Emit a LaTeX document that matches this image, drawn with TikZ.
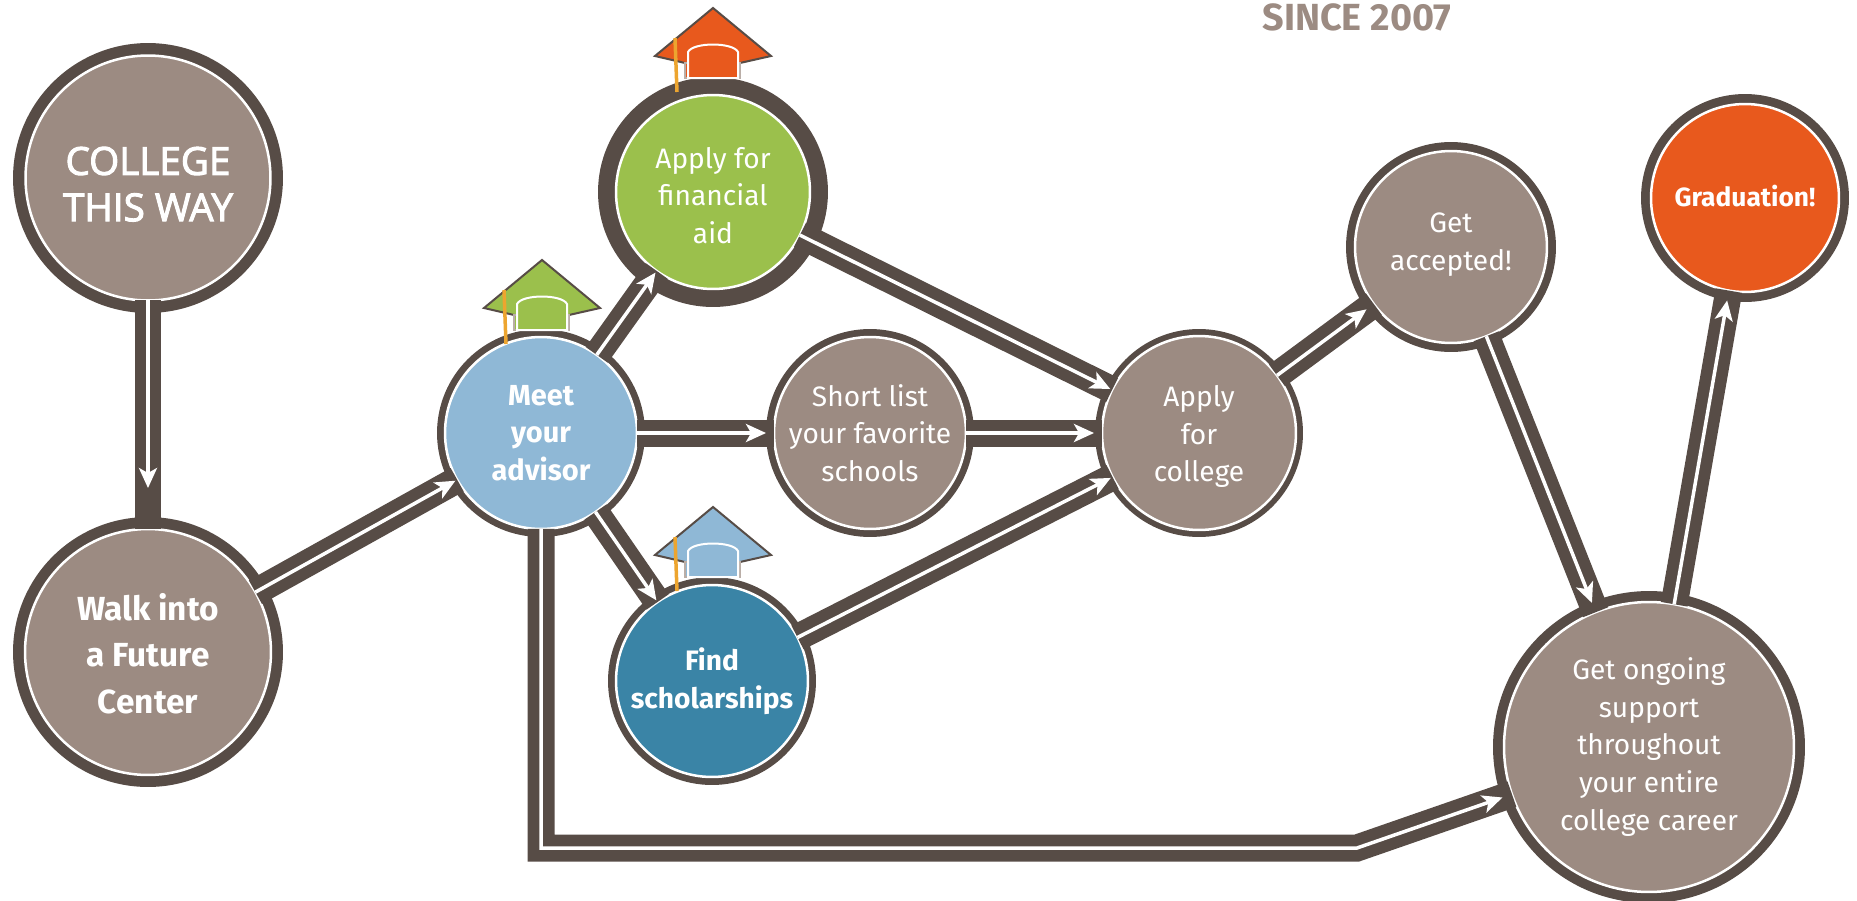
\documentclass[tikz,border=0pt]{standalone}
\usepackage{fontspec}
\setmainfont{Fira Sans}
\newfontfamily\wayfont[FakeBold=2.5]{Open Sans}
\usetikzlibrary{arrows.meta}

\definecolor{ringdark}{HTML}{574C46}
\definecolor{stopbrown}{HTML}{9C8B82}
\definecolor{stopblue}{HTML}{8FB8D6}
\definecolor{stopteal}{HTML}{3A84A6}
\definecolor{stopgreen}{HTML}{9BC04C}
\definecolor{stoporange}{HTML}{E8591D}
\definecolor{tassel}{HTML}{EDA52F}

\newcommand{\topgap}[1]{\rule{0pt}{#1}}

\tikzset{
    stop/.style 2 args={circle, inner sep=0, outer sep=0, minimum size=#1,
        draw=white, line width=0.05cm, fill=stopbrown, text=white, align=center,
        font=\fontsize{16}{21.5}\selectfont,
        preaction={draw=ringdark, line width=#2}},
    textup/.style={execute at end node={\rule[-#1]{0pt}{#1}}},
    link/.style={draw=ringdark, line width=0.54cm,
        postaction={draw=white, line width=0.07cm, shorten >=#1,
            -{Stealth[length=0.4cm, width=0.36cm, inset=0.1cm]}}},
    link/.default=0.18cm,
    hat/.pic={
        \draw[fill=#1, draw=ringdark, line width=0.04cm, line join=miter]
            (0,0) -- (58,48) -- (27,55) -- (-28,55) -- (-58,48) -- cycle;
        \draw[fill=#1, draw=stopbrown!70, line width=0.04cm]
            (-28,70) -- (-28,55) -- (27,55) -- (27,70) -- cycle;
        \draw[fill=#1, draw=white, line width=0.04cm]
            (-25,70) -- (-25,44) .. controls (-20,34) and (20,34) .. (25,44) -- (25,70) -- cycle;
        \draw[tassel, line width=0.07cm] (-38,30) -- (-36,84);
    }
}

\begin{document}
\begin{tikzpicture}[x=0.02cm, y=-0.02cm]
    \useasboundingbox (0,0) rectangle (1857,900);

    \node[font=\fontsize{21.5}{26}\selectfont\bfseries, text=stopbrown] (since) at (1357,17) {SINCE 2007};

    \node[stop={4.9cm}{0.5cm}, font=\fontsize{22}{26.4}\selectfont\wayfont] (college) at (148,178) {\topgap{23pt}COLLEGE\\THIS WAY};
    \node[stop={4.92cm}{0.48cm}, font=\fontsize{19}{26.4}\selectfont\bfseries] (walk) at (148,652) {\topgap{17pt}Walk into\\a Future\\Center};
    \node[stop={3.84cm}{0.32cm}, fill=stopblue, font=\fontsize{16.5}{21.5}\selectfont\bfseries] (meet) at (541,433) {Meet\\your\\advisor};
    \node[stop={3.88cm}{0.72cm}, fill=stopgreen] (financial) at (713,192) {\topgap{16pt}Apply for\\financial\\aid};
    \node[stop={3.84cm}{0.32cm}] (shortlist) at (870,433) {Short list\\your favorite\\schools};
    \node[stop={3.84cm}{0.32cm}, fill=stopteal, font=\fontsize{16}{21.5}\selectfont\bfseries] (find) at (712,681) {Find\\scholarships};
    \node[stop={3.88cm}{0.28cm}] (apply) at (1199,433) {\topgap{16pt}Apply\\for\\college};
    \node[stop={3.84cm}{0.36cm}, textup=6pt] (accepted) at (1451,247) {Get\\accepted!};
    \node[stop={3.76cm}{0.4cm}, fill=stoporange, font=\fontsize{15}{21.5}\selectfont\bfseries, textup=3pt] (graduation) at (1745,198) {Graduation!};
    \node[stop={5.8cm}{0.44cm}] (ongoing) at (1649,747) {Get ongoing\\support\\throughout\\your entire\\college career};

    \coordinate (turnA) at (541,848);
    \coordinate (turnB) at (1357,848);

    \draw[link=0.82cm] (college) -- (walk);
    \draw[link=0.04cm] (walk) -- (meet);
    \draw[link=0.04cm] (meet) -- (financial);
    \draw[link=0.16cm] (meet) -- (shortlist);
    \draw[link=0.04cm] (meet) -- (find);
    \draw[link=0.16cm] (shortlist) -- (apply);
    \draw[link=0.04cm] (financial) -- (apply);
    \draw[link=0.04cm] (find) -- (apply);
    \draw[link=0.18cm] (apply) -- (accepted);
    \draw[link=0.2cm] (accepted) -- (ongoing);
    \draw[link=0.2cm] (ongoing.80) -- (graduation);
    \draw[link=0.2cm] (meet.270) -- (turnA) -- (turnB) -- (ongoing.199);

    \pic at (713,8) {hat=stoporange};
    \pic at (542,260) {hat=stopgreen};
    \pic at (713,507) {hat=stopblue};
\end{tikzpicture}
\end{document}
